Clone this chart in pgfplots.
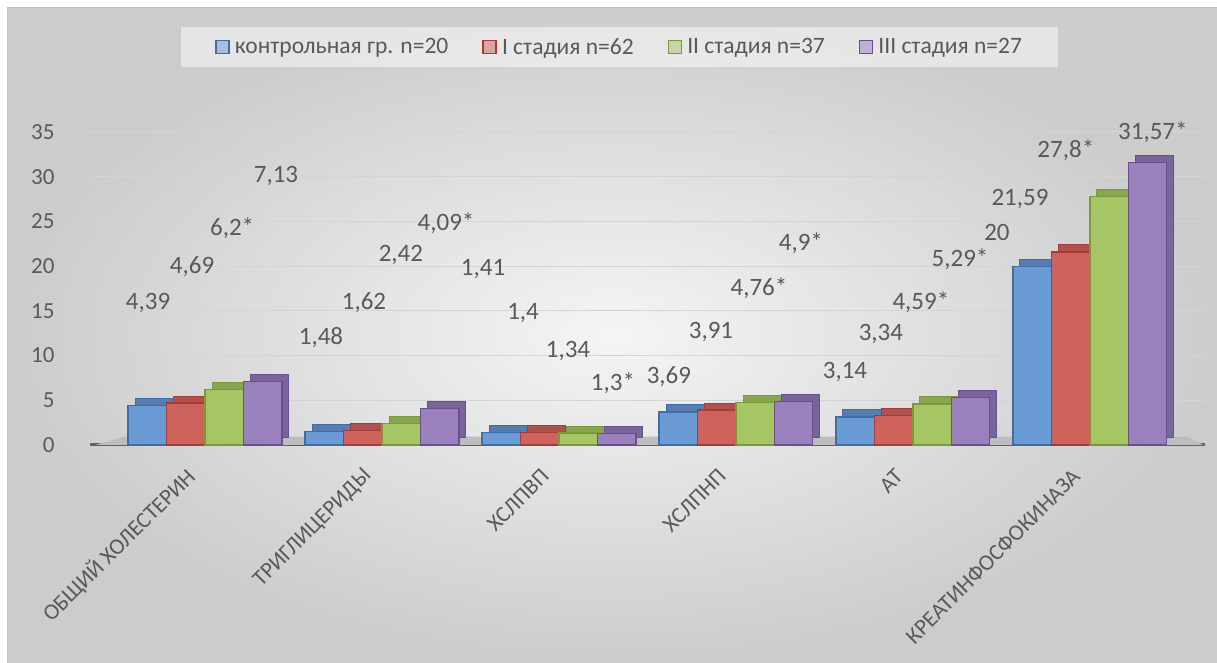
\documentclass[border=0pt]{standalone}
\usepackage{pgfplots}
\usepackage{pgfplotstable}
\usepackage{fontspec}
\pgfplotsset{compat=1.18}
\setmainfont{Carlito}

\definecolor{txt}{HTML}{595959}
\definecolor{gridc}{HTML}{D4D4D4}
\definecolor{floorc}{HTML}{BDBDBD}
\definecolor{blueF}{HTML}{6B9BD4}
\definecolor{blueE}{HTML}{3E6DAA}
\definecolor{blueB}{HTML}{557DAF}
\definecolor{redF}{HTML}{CE625D}
\definecolor{redE}{HTML}{A83B37}
\definecolor{redB}{HTML}{AE524E}
\definecolor{greenF}{HTML}{A6C564}
\definecolor{greenE}{HTML}{7A9A36}
\definecolor{greenB}{HTML}{88A552}
\definecolor{purpleF}{HTML}{9A80BD}
\definecolor{purpleE}{HTML}{6A4E91}
\definecolor{purpleB}{HTML}{7A659A}

% x: category index, y: value, lx/ly: where the value label sits, lab: label text
\pgfplotstableread{
x y lx ly lab
0 4.39 -0.322 15.88 4,39
1 1.48 0.655 11.96 1,48
2 1.41 1.571 19.68 1,41
3 3.69 2.621 7.60 3,69
4 3.14 3.616 8.16 3,14
5 20.00 4.475 23.71 20
}\control

\pgfplotstableread{
x y lx ly lab
0 4.69 -0.073 19.90 4,69
1 1.62 0.898 15.88 1,62
2 1.40 1.797 14.76 1,4
3 3.91 2.859 12.64 3,91
4 3.34 3.819 12.41 3,34
5 21.59 4.605 27.51 21,59
}\stageI

\pgfplotstableread{
x y lx ly lab
0 6.20 0.153 24.26 6,2*
1 2.42 1.107 21.25 2,42
2 1.34 2.051 10.51 1,34
3 4.76 3.130 17.56 4,76*
4 4.59 4.045 15.99 4,59*
5 27.80 4.864 32.99 27,8*
}\stageII

\pgfplotstableread{
x y lx ly lab
0 7.13 0.401 30.08 7,13
1 4.09 1.362 24.82 4,09*
2 1.30 2.305 6.93 1,3*
3 4.90 3.367 22.59 4,9*
4 5.29 4.266 20.80 5,29*
5 31.57 5.356 35.00 31,57*
}\stageIII

\begin{document}
\begin{tikzpicture}
% page and chart area
\useasboundingbox (0,0) rectangle (1217pt,663pt);
\fill[white] (0,0) rectangle (1217pt,663pt);
\shade[inner color=white!96!black, outer color=black!20] (7pt,0pt) rectangle (1217pt,655pt);
\draw[black!25, line width=1pt] (7pt,655pt) -- (1217pt,655pt);
\draw[black!22, line width=1pt] (7pt,0pt) -- (7pt,655pt);

\begin{axis}[
  at={(90pt,218pt)}, anchor=south west,
  scale only axis, width=1115pt, height=313pt,
  xmin=-0.65, xmax=5.65, ymin=0, ymax=35,
  clip=false,
  axis x line*=bottom, axis y line*=left,
  x axis line style={line width=3pt, color=black!62, -},
  y axis line style={draw=none},
  major tick length=0pt,
  ytick={0,5,...,35},
  ymajorgrids, major grid style={gridc, line width=1pt},
  xtick={0,...,5},
  xticklabels={ОБЩИЙ ХОЛЕСТЕРИН, ТРИГЛИЦЕРИДЫ, ХСЛПВП, ХСЛПНП, АТ, КРЕАТИНФОСФОКИНАЗА},
  xticklabel style={rotate=45, anchor=east, font=\fontsize{22.5}{25}\selectfont, text=txt, xshift=-26pt, yshift=-10pt},
  yticklabel style={font=\fontsize{23}{26}\selectfont, text=txt, anchor=east, xshift=-32pt},
  /pgf/number format/assume math mode=true,
  /pgf/bar width=0.2175,
  legend columns=4,
  legend style={at={(0.475,1.272)}, anchor=center, draw=none,
    fill=white, fill opacity=0.5, text opacity=1,
    font=\fontsize{23.5}{26}\selectfont, text=txt,
    inner xsep=34pt, inner ysep=9pt,
    /tikz/every odd column/.append style={column sep=3pt},
    /tikz/every even column/.append style={column sep=32pt}},
  legend image code/.code={\draw[#1, line width=1.6pt] (0pt,-6.5pt) rectangle (13pt,6.5pt);},
  legend cell align=left,
  labelnode/.style={forget plot, only marks, mark=none, nodes near coords,
    point meta=explicit symbolic,
    nodes near coords style={anchor=center, font=\fontsize{25}{28}\selectfont, text=txt}},
]

% floor under the columns
\fill[floorc] (axis cs:-0.62,0) -- (axis cs:5.64,0) -- (axis cs:5.55,0.95) -- (axis cs:-0.45,0.95) -- cycle;

% depth faces, then front faces
\addplot[ybar, bar shift=-0.326, forget plot, fill=blueB, draw=blueE, line width=1pt, xshift=7pt, yshift=7pt] table[x=x,y=y]{\control};
\addplot[ybar, bar shift=-0.326, fill=blueF, draw=blueE, line width=1.2pt] table[x=x,y=y]{\control};
\addlegendentry{контрольная гр. n=20}
\addplot[ybar, bar shift=-0.109, forget plot, fill=redB, draw=redE, line width=1pt, xshift=7pt, yshift=7pt] table[x=x,y=y]{\stageI};
\addplot[ybar, bar shift=-0.109, fill=redF, draw=redE, line width=1.2pt] table[x=x,y=y]{\stageI};
\addlegendentry{I стадия n=62}
\addplot[ybar, bar shift=0.109, forget plot, fill=greenB, draw=greenE, line width=1pt, xshift=7pt, yshift=7pt] table[x=x,y=y]{\stageII};
\addplot[ybar, bar shift=0.109, fill=greenF, draw=greenE, line width=1.2pt] table[x=x,y=y]{\stageII};
\addlegendentry{II стадия n=37}
\addplot[ybar, bar shift=0.326, forget plot, fill=purpleB, draw=purpleE, line width=1pt, xshift=7pt, yshift=7pt] table[x=x,y=y]{\stageIII};
\addplot[ybar, bar shift=0.326, fill=purpleF, draw=purpleE, line width=1.2pt] table[x=x,y=y]{\stageIII};
\addlegendentry{III стадия n=27}

% value labels
\addplot[labelnode] table[x=lx,y=ly,meta=lab]{\control};
\addplot[labelnode] table[x=lx,y=ly,meta=lab]{\stageI};
\addplot[labelnode] table[x=lx,y=ly,meta=lab]{\stageII};
\addplot[labelnode] table[x=lx,y=ly,meta=lab]{\stageIII};
\end{axis}
\end{tikzpicture}
\end{document}
